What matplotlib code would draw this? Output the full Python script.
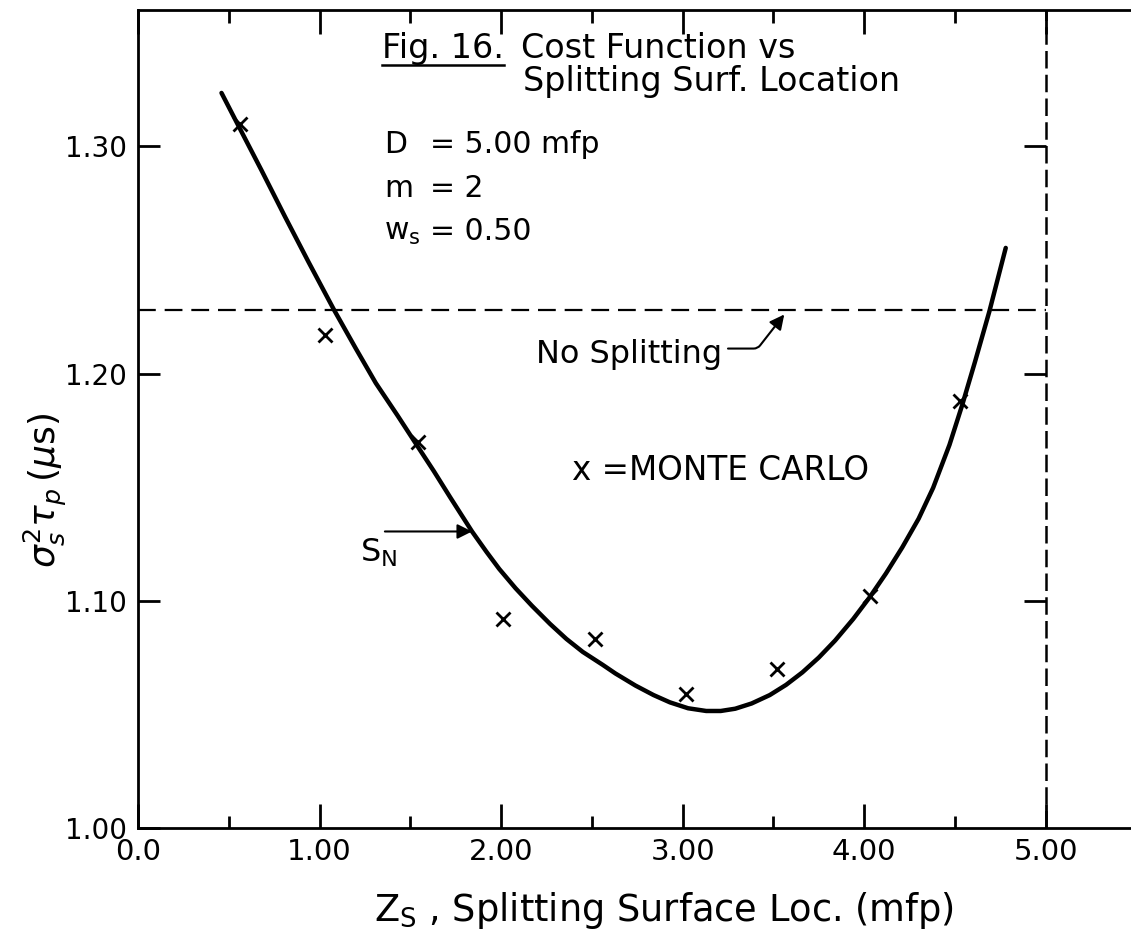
import numpy as np
import matplotlib
matplotlib.use("Agg")
import matplotlib.pyplot as plt
from matplotlib.lines import Line2D
from matplotlib.ticker import MultipleLocator

# S_N cost curve
sn_z = [0.46, 0.56, 0.68, 0.81, 0.94, 1.08, 1.20, 1.31, 1.43, 1.54, 1.63, 1.72,
        1.84, 1.92, 1.99, 2.08, 2.17, 2.27, 2.36, 2.45, 2.56, 2.63, 2.74, 2.84,
        2.93, 3.03, 3.13, 3.21, 3.29, 3.38, 3.48, 3.57, 3.66, 3.75, 3.84, 3.94,
        4.03, 4.12, 4.21, 4.30, 4.38, 4.47, 4.54, 4.61, 4.69, 4.78]
sn_cost = [1.3235, 1.3080, 1.2895, 1.2690, 1.2490, 1.2280, 1.2110, 1.1958, 1.1815,
           1.1680, 1.1570, 1.1455, 1.1305, 1.1215, 1.1140, 1.1055, 1.0978, 1.0898,
           1.0832, 1.0775, 1.0718, 1.0680, 1.0627, 1.0585, 1.0553, 1.0527, 1.0515,
           1.0515, 1.0525, 1.0548, 1.0585, 1.0630, 1.0685, 1.0750, 1.0825, 1.0920,
           1.1015, 1.1120, 1.1235, 1.1361, 1.1497, 1.1686, 1.1861, 1.2050, 1.2274,
           1.2553]

# Monte Carlo estimates
mc_z = [0.56, 1.03, 1.54, 2.01, 2.52, 3.02, 3.52, 4.03, 4.53]
mc_cost = [1.310, 1.217, 1.170, 1.092, 1.083, 1.059, 1.070, 1.102, 1.188]

# reference values
no_split_cost = 1.228
slab_d = 5.0

x_ticks = [0, 1, 2, 3, 4, 5]
x_tick_labels = ["0.0", "1.00", "2.00", "3.00", "4.00", "5.00"]
y_ticks = [1.0, 1.1, 1.2, 1.3]
y_tick_labels = ["1.00", "1.10", "1.20", "1.30"]

W, H = 1131, 940


def px(x, y):
    # pixel position measured from top-left -> figure fraction
    return x / W, 1 - y / H


fig = plt.figure(figsize=(W / 100, H / 100), dpi=100)
ax = fig.add_axes([138 / W, 1 - 828 / H, 993 / W, 818 / H])

ax.plot(sn_z, sn_cost, color="k", lw=3.2, solid_capstyle="round", solid_joinstyle="round")
ax.plot(mc_z, mc_cost, ls="none", marker="x", ms=10.5, mew=2, color="k")
ax.hlines(no_split_cost, 0, slab_d, colors="k", linestyles=(0, (8, 4)), lw=1.6)
ax.axvline(slab_d, color="k", ls=(0, (7, 2.5)), lw=1.8)

ax.set_xlim(0, 5.47)
ax.set_ylim(1.0, 1.36)
ax.set_xticks(x_ticks, x_tick_labels)
ax.set_yticks(y_ticks, y_tick_labels)
ax.xaxis.set_minor_locator(MultipleLocator(0.5))

for side in ["left", "bottom", "top"]:
    ax.spines[side].set_linewidth(2)
ax.spines["right"].set_visible(False)

ax.tick_params(axis="x", which="both", direction="in", top=True, bottom=True, width=2)
ax.tick_params(axis="x", which="major", length=17, labelsize=21, pad=7)
ax.tick_params(axis="x", which="minor", length=9)
ax.tick_params(axis="y", which="major", direction="in", length=16, width=2,
               labelsize=20, pad=8)

# ticks hanging off the D = 5 line
sec = ax.secondary_yaxis(slab_d, transform=ax.transData)
sec.set_yticks(y_ticks[1:])
sec.tick_params(direction="in", length=16, width=2, labelright=False, labelleft=False)
sec.spines["right"].set_visible(False)

# labels
fig.text(*px(664, 921), r"Z$_\mathrm{S}$ , Splitting Surface Loc. (mfp)",
         ha="center", va="baseline", fontsize=26.5)
fig.text(*px(45, 490), r"$\sigma_s^2\tau_p\,(\mu\mathrm{s})$", rotation=90,
         ha="center", va="center", fontsize=26)

# title block
fig_t = fig.text(*px(382, 58), "Fig. 16.", fontsize=24, va="baseline")
fig.text(*px(521, 58), "Cost Function vs", fontsize=24, va="baseline")
fig.text(*px(523, 91), "Splitting Surf. Location", fontsize=24, va="baseline")

params = [("D", "= 5.00 mfp", 153), ("m", "= 2", 197), (r"w$_\mathrm{s}$", "= 0.50", 240)]
for name, val, y in params:
    fig.text(*px(384, y), name, fontsize=21.5, va="baseline")
    fig.text(*px(430, y), val, fontsize=21.5, va="baseline")

fig.text(*px(572, 480), "x =MONTE CARLO", fontsize=23.5, va="baseline")

# S_N pointer
fig.text(*px(360, 562), r"S$_\mathrm{N}$", fontsize=23, va="baseline")
tip_z = 1.84
tip_c = np.interp(tip_z, sn_z, sn_cost)
ax.annotate("", xy=(tip_z, tip_c), xytext=(1.36, tip_c),
            arrowprops=dict(arrowstyle="-|>", color="k", lw=1.5, mutation_scale=22,
                            shrinkA=0, shrinkB=0))

# no splitting pointer
fig.text(*px(722, 363), "No Splitting", fontsize=23, va="baseline", ha="right")
ax.annotate("", xy=(3.56, no_split_cost - 0.002), xytext=(3.25, 1.211),
            arrowprops=dict(arrowstyle="-|>", color="k", lw=1.5, mutation_scale=22,
                            shrinkA=0, shrinkB=0,
                            connectionstyle="angle,angleA=0,angleB=52,rad=4"))

# underline "Fig. 16."
fig.canvas.draw()
bb = fig_t.get_window_extent()
fig.add_artist(Line2D([bb.x0 / W, bb.x1 / W], [1 - 65 / H] * 2,
                      transform=fig.transFigure, color="k", lw=1.8))

fig.savefig("out.png", dpi=100, facecolor="white")
